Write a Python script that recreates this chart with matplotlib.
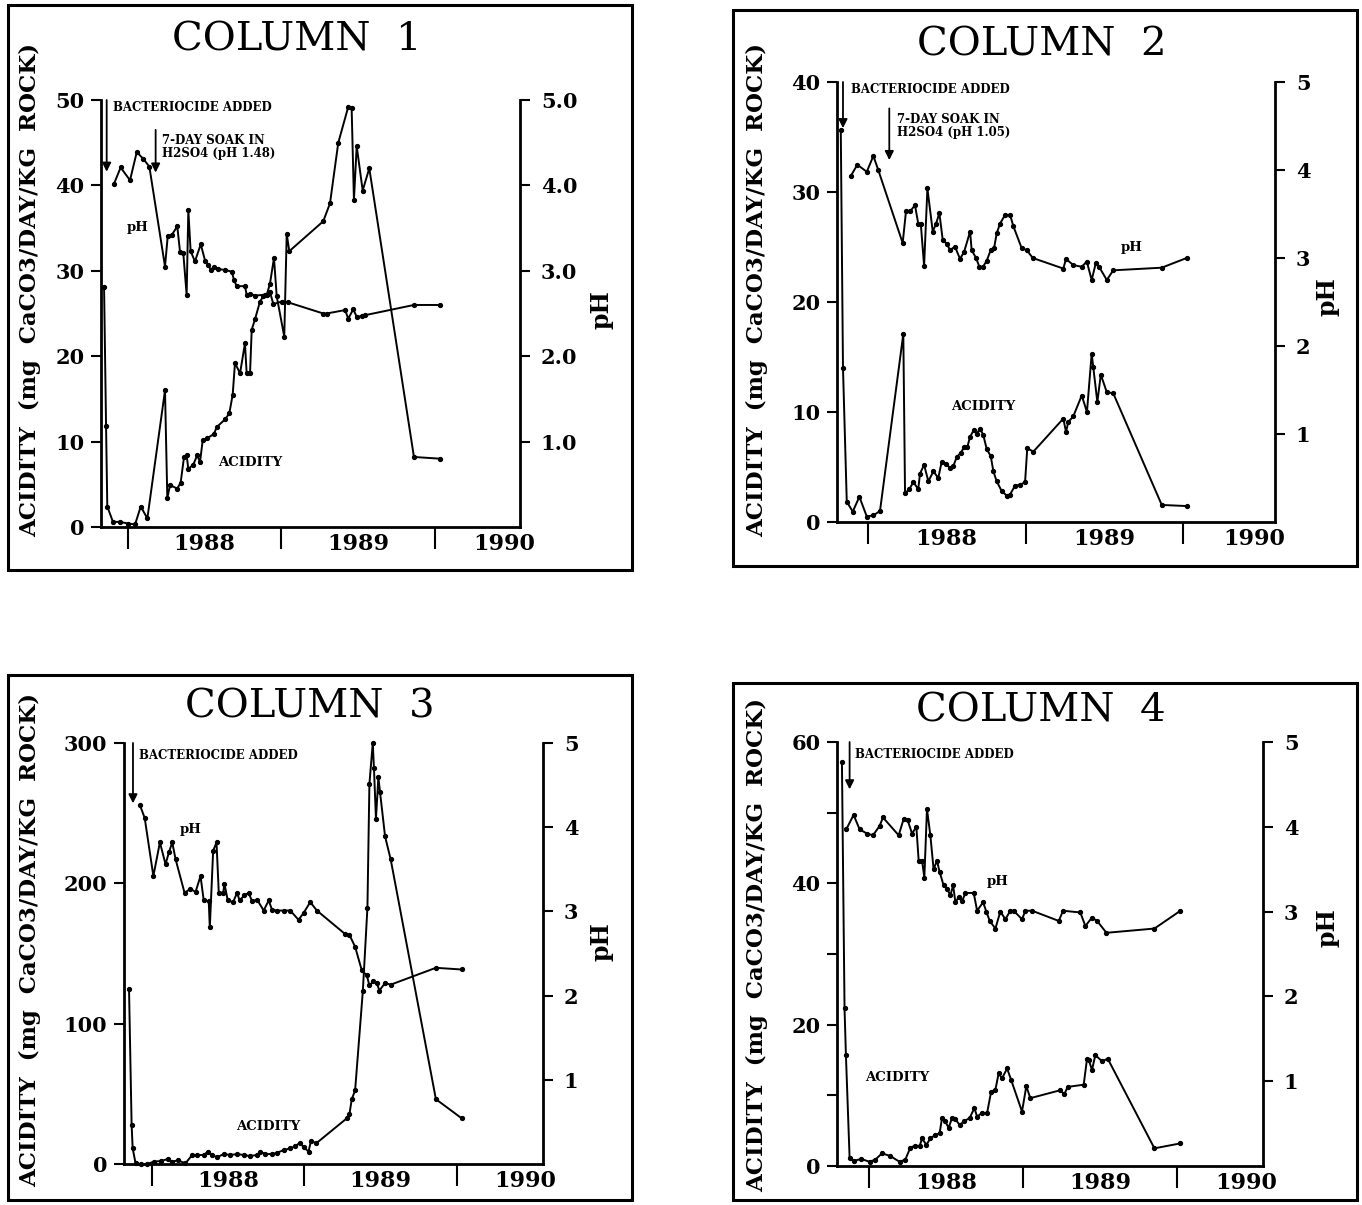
import matplotlib.pyplot as plt
from matplotlib.patches import Rectangle

W, H = 1362, 1205

# ---- Column 1 ----
c1_acid_t = [1987.844, 1987.857, 1987.865, 1987.902, 1987.948, 1988.002, 1988.046, 1988.083, 1988.126,
             1988.241, 1988.256, 1988.274, 1988.321, 1988.343, 1988.365, 1988.382, 1988.393, 1988.425,
             1988.451, 1988.469, 1988.487, 1988.517, 1988.560, 1988.578, 1988.632, 1988.660, 1988.682,
             1988.697, 1988.730, 1988.762, 1988.773, 1988.795, 1988.806, 1988.827, 1988.860, 1988.881,
             1988.904, 1988.925, 1988.951, 1988.969, 1989.018, 1989.034, 1989.051, 1989.272, 1989.316,
             1989.370, 1989.435, 1989.457, 1989.472, 1989.490, 1989.529, 1989.572, 1989.863, 1990.033]
c1_acid = [28.1, 11.8, 2.4, 0.6, 0.6, 0.4, 0.3, 2.4, 1.0,
           16.0, 3.4, 4.9, 4.5, 5.2, 8.2, 8.4, 6.8, 7.3,
           8.4, 7.6, 10.2, 10.4, 10.9, 11.7, 12.6, 13.3, 15.5,
           19.2, 18.0, 21.5, 18.0, 18.0, 23.1, 24.3, 26.4, 27.0,
           27.2, 28.5, 31.5, 27.0, 22.3, 34.3, 32.3, 35.8, 37.9,
           45.0, 49.2, 49.1, 38.3, 44.6, 39.4, 42.0, 8.2, 8.0]
c1_ph_t = [1987.909, 1987.952, 1988.013, 1988.057, 1988.100, 1988.139, 1988.241, 1988.259, 1988.285,
           1988.321, 1988.339, 1988.360, 1988.382, 1988.393, 1988.408, 1988.436, 1988.474, 1988.502,
           1988.523, 1988.539, 1988.560, 1988.588, 1988.632, 1988.676, 1988.691, 1988.708, 1988.762,
           1988.773, 1988.795, 1988.827, 1988.893, 1988.925, 1988.947, 1989.001, 1989.044, 1989.272,
           1989.294, 1989.414, 1989.435, 1989.468, 1989.490, 1989.522, 1989.544, 1989.863, 1990.033]
c1_ph = [4.02, 4.21, 4.06, 4.39, 4.31, 4.22, 3.05, 3.41, 3.42,
         3.52, 3.22, 3.21, 2.72, 3.71, 3.23, 3.11, 3.31, 3.12,
         3.07, 3.01, 3.05, 3.02, 3.01, 2.99, 2.89, 2.82, 2.82,
         2.72, 2.73, 2.71, 2.72, 2.75, 2.61, 2.64, 2.63, 2.50,
         2.50, 2.54, 2.44, 2.55, 2.46, 2.47, 2.48, 2.60, 2.60]

# ---- Column 2 ----
c2_acid_t = [1987.827, 1987.841, 1987.865, 1987.903, 1987.945, 1987.992, 1988.034, 1988.076, 1988.224,
             1988.235, 1988.262, 1988.288, 1988.319, 1988.330, 1988.356, 1988.383, 1988.415, 1988.446,
             1988.468, 1988.495, 1988.521, 1988.542, 1988.563, 1988.589, 1988.610, 1988.630, 1988.648,
             1988.673, 1988.690, 1988.711, 1988.732, 1988.754, 1988.779, 1988.796, 1988.817, 1988.849,
             1988.881, 1988.902, 1988.933, 1988.965, 1988.997, 1989.011, 1989.050, 1989.240, 1989.257,
             1989.272, 1989.303, 1989.357, 1989.390, 1989.420, 1989.430, 1989.456, 1989.478, 1989.516,
             1989.557, 1989.865, 1990.023]
c2_acid = [35.6, 14.0, 1.85, 0.94, 2.3, 0.5, 0.6, 1.0, 17.1,
           2.6, 3.0, 3.6, 3.0, 4.4, 5.2, 3.7, 4.6, 4.0,
           5.5, 5.3, 4.9, 5.1, 5.9, 6.3, 6.8, 6.8, 7.75,
           8.4, 8.0, 8.5, 7.9, 6.6, 6.0, 4.6, 3.7, 2.8,
           2.4, 2.5, 3.3, 3.4, 3.6, 6.7, 6.4, 9.4, 8.2,
           9.1, 9.6, 11.5, 10.0, 15.3, 14.1, 10.9, 13.4, 11.8,
           11.7, 1.55, 1.45]
c2_ph_t = [1987.890, 1987.932, 1987.992, 1988.034, 1988.065, 1988.220, 1988.241, 1988.267, 1988.298,
           1988.319, 1988.335, 1988.356, 1988.377, 1988.411, 1988.432, 1988.453, 1988.474, 1988.500,
           1988.521, 1988.552, 1988.584, 1988.610, 1988.648, 1988.658, 1988.686, 1988.707, 1988.730,
           1988.754, 1988.779, 1988.800, 1988.817, 1988.838, 1988.870, 1988.902, 1988.923, 1988.976,
           1989.008, 1989.046, 1989.240, 1989.257, 1989.303, 1989.357, 1989.389, 1989.420, 1989.446,
           1989.467, 1989.516, 1989.557, 1989.865, 1990.023]
c2_ph = [3.93, 4.06, 3.98, 4.16, 4.00, 3.17, 3.53, 3.53, 3.60,
         3.39, 3.39, 2.91, 3.79, 3.30, 3.39, 3.51, 3.21, 3.16,
         3.09, 3.13, 2.99, 3.07, 3.30, 3.09, 3.00, 2.90, 2.90,
         2.97, 3.09, 3.11, 3.28, 3.39, 3.49, 3.49, 3.36, 3.11,
         3.09, 3.00, 2.88, 2.99, 2.92, 2.90, 2.96, 2.75, 2.94,
         2.90, 2.75, 2.86, 2.89, 3.00]

# ---- Column 3 ----
c3_acid_t = [1987.847, 1987.864, 1987.871, 1987.890, 1987.923, 1987.967, 1988.010, 1988.054, 1988.102,
             1988.131, 1988.168, 1988.218, 1988.262, 1988.295, 1988.338, 1988.365, 1988.393, 1988.426,
             1988.470, 1988.513, 1988.557, 1988.601, 1988.640, 1988.689, 1988.710, 1988.743, 1988.787,
             1988.820, 1988.863, 1988.907, 1988.940, 1988.968, 1988.994, 1989.027, 1989.043, 1989.077,
             1989.279, 1989.296, 1989.311, 1989.333, 1989.384, 1989.414, 1989.427, 1989.449, 1989.457,
             1989.470, 1989.486, 1989.497, 1989.530, 1989.567, 1989.864, 1990.033]
c3_acid = [124.8, 27.9, 11.2, 0.5, 0.0, 0.0, 1.7, 2.1, 3.5,
           1.7, 2.6, 0.5, 6.4, 6.4, 6.4, 8.8, 6.4, 4.8,
           7.1, 6.4, 7.1, 6.4, 5.7, 6.4, 8.8, 7.1, 7.1,
           8.0, 9.9, 11.1, 12.7, 15.0, 12.2, 8.8, 16.6, 14.7,
           32.6, 35.7, 46.2, 52.4, 123.5, 182.6, 270.7, 300.0, 281.9,
           246.0, 275.5, 264.8, 233.4, 217.0, 46.2, 32.6]
c3_ph_t = [1987.919, 1987.950, 1988.007, 1988.050, 1988.087, 1988.109, 1988.131, 1988.153, 1988.212,
           1988.251, 1988.284, 1988.317, 1988.338, 1988.371, 1988.378, 1988.400, 1988.422, 1988.437,
           1988.466, 1988.474, 1988.496, 1988.531, 1988.557, 1988.574, 1988.605, 1988.633, 1988.656,
           1988.689, 1988.732, 1988.765, 1988.787, 1988.820, 1988.863, 1988.907, 1988.961, 1988.994,
           1989.038, 1989.082, 1989.268, 1989.296, 1989.333, 1989.377, 1989.410, 1989.427, 1989.453,
           1989.475, 1989.493, 1989.530, 1989.567, 1989.864, 1990.033]
c3_ph = [4.26, 4.11, 3.42, 3.82, 3.56, 3.70, 3.82, 3.62, 3.22,
         3.27, 3.23, 3.42, 3.13, 3.12, 2.81, 3.72, 3.82, 3.22,
         3.22, 3.33, 3.13, 3.11, 3.22, 3.13, 3.19, 3.22, 3.12,
         3.14, 3.01, 3.13, 3.02, 3.01, 3.01, 3.01, 2.90, 2.98,
         3.11, 3.01, 2.73, 2.72, 2.58, 2.30, 2.24, 2.12, 2.17,
         2.15, 2.06, 2.15, 2.13, 2.33, 2.31]

# ---- Column 4 ----
c4_acid_t = [1987.822, 1987.839, 1987.848, 1987.872, 1987.898, 1987.946, 1988.002, 1988.039, 1988.083,
             1988.137, 1988.197, 1988.234, 1988.267, 1988.299, 1988.327, 1988.343, 1988.371, 1988.397,
             1988.429, 1988.457, 1988.473, 1988.494, 1988.516, 1988.538, 1988.560, 1988.588, 1988.614,
             1988.653, 1988.683, 1988.701, 1988.733, 1988.766, 1988.792, 1988.820, 1988.841, 1988.863,
             1988.896, 1988.922, 1988.993, 1989.021, 1989.047, 1989.238, 1989.269, 1989.290, 1989.394,
             1989.416, 1989.427, 1989.448, 1989.470, 1989.514, 1989.550, 1989.854, 1990.023]
c4_acid = [57.2, 22.3, 15.7, 1.1, 0.7, 1.0, 0.6, 0.9, 1.8,
           1.4, 0.6, 0.9, 2.6, 2.9, 2.8, 3.9, 3.0, 3.9,
           4.4, 4.6, 6.8, 6.3, 5.4, 6.8, 6.6, 5.8, 6.3,
           6.8, 8.2, 7.0, 7.5, 7.5, 10.5, 10.8, 13.1, 12.4,
           13.8, 12.2, 7.7, 11.3, 9.6, 10.7, 10.2, 11.2, 11.5,
           15.2, 15.0, 13.6, 15.7, 14.8, 15.2, 2.5, 3.2]
c4_ph_t = [1987.850, 1987.898, 1987.937, 1987.985, 1988.024, 1988.067, 1988.089, 1988.191, 1988.223,
           1988.249, 1988.278, 1988.306, 1988.321, 1988.343, 1988.358, 1988.375, 1988.397, 1988.418,
           1988.440, 1988.457, 1988.483, 1988.506, 1988.527, 1988.545, 1988.560, 1988.581, 1988.603,
           1988.625, 1988.679, 1988.701, 1988.740, 1988.761, 1988.783, 1988.820, 1988.852, 1988.885,
           1988.917, 1988.939, 1988.993, 1989.015, 1989.059, 1989.232, 1989.260, 1989.372, 1989.405,
           1989.448, 1989.481, 1989.542, 1989.854, 1990.023]
c4_ph = [3.97, 4.14, 3.97, 3.92, 3.90, 4.01, 4.11, 3.90, 4.09,
         4.08, 3.92, 4.00, 3.60, 3.60, 3.40, 4.21, 3.90, 3.50,
         3.60, 3.47, 3.31, 3.27, 3.19, 3.31, 3.11, 3.17, 3.12,
         3.22, 3.22, 3.01, 3.11, 3.00, 2.89, 2.80, 3.00, 2.91,
         3.01, 3.01, 2.91, 3.01, 3.01, 2.89, 3.01, 2.99, 2.83,
         2.93, 2.89, 2.75, 2.80, 3.01]

year_labels = ['1988', '1989', '1990']
ylabel_text = 'ACIDITY  (mg  CaCO3/DAY/KG  ROCK)'

SERIF = 'DejaVu Serif'
plt.rcParams['font.family'] = SERIF

fig = plt.figure(figsize=(W / 100, H / 100), dpi=100)


def fx(x):
    return x / W


def fy(y):
    return 1 - y / H


def panel(title, box, axrect, xlim, ymax, yticks, yminor, ph_ticks, ph_fmt,
          acid_t, acid, ph_t, ph, title_xy, ylab_xy, phlab_xy,
          bact, soak, ph_lab, acid_lab):
    l, t, r, b = box
    fig.add_artist(Rectangle((fx(l), fy(b)), (r - l) / W, (b - t) / H,
                             transform=fig.transFigure, fill=False, lw=2.2, ec='black'))
    fig.text(fx(title_xy[0]), fy(title_xy[1]), title, ha='center', va='center',
             fontsize=29, color='black')
    fig.text(fx(ylab_xy[0]), fy(ylab_xy[1]), ylabel_text, rotation=90, ha='center',
             va='center', fontsize=16.5, fontweight='bold')
    fig.text(fx(phlab_xy[0]), fy(phlab_xy[1]), 'pH', rotation=90, ha='center',
             va='center', fontsize=17, fontweight='bold')

    al, at, ar, ab = axrect
    ax = fig.add_axes([fx(al), fy(ab), (ar - al) / W, (ab - at) / H])
    ax.patch.set_alpha(0)
    ax.set_xlim(*xlim)
    ax.set_ylim(0, ymax)
    for s in ['top', 'right']:
        ax.spines[s].set_visible(False)
    for s in ['left', 'bottom']:
        ax.spines[s].set_linewidth(2)

    ax.set_yticks(yticks)
    ax.set_yticks(yminor, minor=True)
    ax.tick_params(axis='y', which='both', direction='out', length=7, width=1.5,
                   labelsize=15, pad=5)
    for lab in ax.get_yticklabels():
        lab.set_fontweight('bold')

    ax.set_xticks([1988, 1989, 1990])
    ax.set_xticklabels([])
    ax.tick_params(axis='x', which='major', direction='out', length=16, width=1.5)
    ax.set_xticks([1988.5, 1989.5, 1990.45], minor=True)
    ax.set_xticklabels(year_labels, minor=True, fontsize=16, fontweight='bold')
    ax.tick_params(axis='x', which='minor', length=0, pad=4)

    ax.plot(acid_t, acid, color='black', lw=1.4, marker='o', ms=2.8, clip_on=False)

    axr = ax.twinx()
    axr.set_ylim(0, 5)
    for s in ['top', 'left', 'bottom']:
        axr.spines[s].set_visible(False)
    axr.spines['right'].set_linewidth(2)
    axr.set_yticks(ph_ticks)
    axr.set_yticklabels([ph_fmt.format(v) for v in ph_ticks], fontsize=15, fontweight='bold')
    axr.tick_params(axis='y', direction='out', length=7, width=1.5, pad=8)
    axr.plot(ph_t, ph, color='black', lw=1.4, marker='o', ms=2.8, clip_on=False)

    # annotations
    bx, by0, by1, tx, ty = bact
    ax.annotate('', xy=(bx, by1), xytext=(bx, by0),
                arrowprops=dict(arrowstyle='-|>', color='black', lw=1.3,
                                mutation_scale=13, shrinkA=0, shrinkB=0))
    ax.text(tx, ty, 'BACTERIOCIDE ADDED', fontsize=8.5, fontweight='bold',
            ha='left', va='center')
    if soak is not None:
        sx, sy0, sy1, stx, sty, stxt = soak
        ax.annotate('', xy=(sx, sy1), xytext=(sx, sy0),
                    arrowprops=dict(arrowstyle='-|>', color='black', lw=1.3,
                                    mutation_scale=13, shrinkA=0, shrinkB=0))
        ax.text(stx, sty, stxt, fontsize=8.5, fontweight='bold', ha='left',
                va='top', linespacing=1.0)
    ax.text(ph_lab[0], ph_lab[1], 'pH', fontsize=9.5, fontweight='bold',
            ha='center', va='center')
    ax.text(acid_lab[0], acid_lab[1], 'ACIDITY', fontsize=9.5, fontweight='bold',
            ha='center', va='center')


panel('COLUMN  1', (8, 5, 632, 570), (101, 100, 520, 527), (1987.824, 1990.554), 50,
      [0, 10, 20, 30, 40, 50], [], [1, 2, 3, 4, 5], '{:.1f}',
      c1_acid_t, c1_acid, c1_ph_t, c1_ph, (297, 40), (30, 290), (602, 310),
      (1987.861, 50, 41.6, 1987.902, 49.1),
      (1988.18, 46.5, 41.5, 1988.22, 46.0, '7-DAY SOAK IN\nH2SO4 (pH 1.48)'),
      (1988.065, 35.1), (1988.795, 7.5))

panel('COLUMN  2', (733, 10, 1357, 566), (837, 82, 1275, 522), (1987.803, 1990.584), 40,
      [0, 10, 20, 30, 40], [], [1, 2, 3, 4, 5], '{:.0f}',
      c2_acid_t, c2_acid, c2_ph_t, c2_ph, (1042, 45), (757, 290), (1327, 297),
      (1987.841, 40, 35.8, 1987.892, 39.3),
      (1988.135, 37.6, 32.9, 1988.184, 37.2, '7-DAY SOAK IN\nH2SO4 (pH 1.05)'),
      (1989.676, 25.0), (1988.73, 10.5))

panel('COLUMN  3', (8, 675, 632, 1200), (124, 743, 543, 1164), (1987.814, 1990.568), 300,
      [0, 100, 200, 300], [], [1, 2, 3, 4, 5], '{:.0f}',
      c3_acid_t, c3_acid, c3_ph_t, c3_ph, (310, 707), (30, 940), (602, 942),
      (1987.873, 300, 257, 1987.91, 291),
      None,
      (1988.251, 238.6), (1988.763, 26.4))

panel('COLUMN  4', (733, 683, 1357, 1200), (837, 742, 1263, 1166), (1987.79, 1990.56), 60,
      [0, 20, 40, 60], [10, 30, 50], [1, 2, 3, 4, 5], '{:.0f}',
      c4_acid_t, c4_acid, c4_ph_t, c4_ph, (1041, 711), (757, 945), (1327, 928),
      (1987.872, 60, 53.3, 1987.909, 58.2),
      None,
      (1988.833, 40.3), (1988.182, 12.5))

fig.savefig('out.png', dpi=100)
